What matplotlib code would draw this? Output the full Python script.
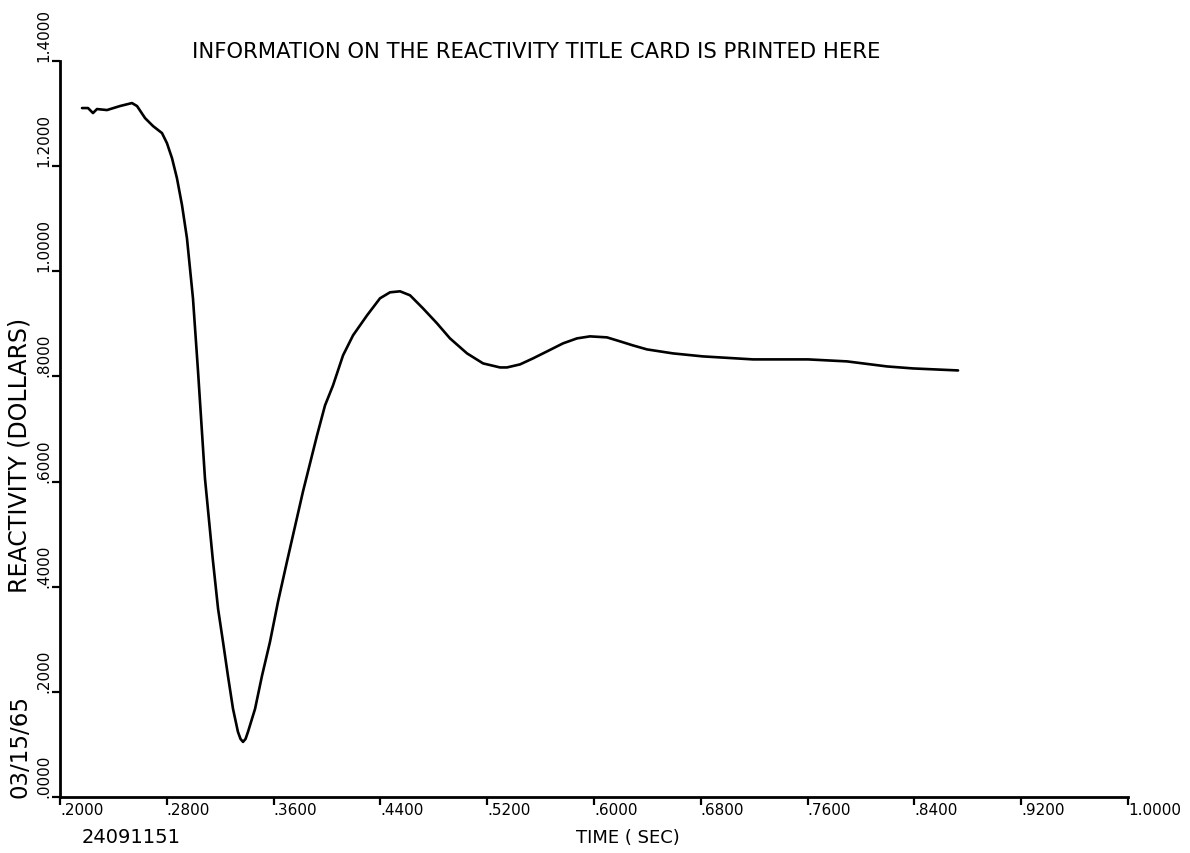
import matplotlib
matplotlib.use("Agg")
import matplotlib.pyplot as plt

# reactivity trace, time in seconds vs reactivity in dollars
time_sec = [0.2165, 0.2210, 0.2247, 0.2277, 0.2352, 0.2449, 0.2539, 0.2577,
            0.2637, 0.2697, 0.2764, 0.2801, 0.2839, 0.2876, 0.2914, 0.2951,
            0.2996, 0.3034, 0.3086, 0.3144, 0.3184, 0.3221, 0.3258,
            0.3296, 0.3333, 0.3352, 0.3371, 0.3390, 0.3408, 0.3461, 0.3513,
            0.3573, 0.3633,
            0.3700, 0.3820, 0.3925, 0.3985, 0.4045, 0.4120, 0.4195, 0.4300,
            0.4397, 0.4472, 0.4547, 0.4622, 0.4719, 0.4824, 0.4921, 0.5049,
            0.5169, 0.5296, 0.5348, 0.5446, 0.5543, 0.5648, 0.5768, 0.5873,
            0.5970, 0.6097, 0.6195, 0.6292, 0.6397, 0.6592, 0.6816, 0.7191,
            0.7603, 0.7895, 0.8195, 0.8390, 0.8727]
reactivity = [1.3105, 1.3105, 1.3010, 1.3086, 1.3067, 1.3143, 1.3200, 1.3143,
              1.2914, 1.2762, 1.2629, 1.2438, 1.2152, 1.1771, 1.1257, 1.0629,
              0.9486, 0.8095, 0.6057, 0.4533, 0.3581, 0.2952, 0.2305,
              0.1676, 0.1238, 0.1105, 0.1048, 0.1105, 0.1238, 0.1676, 0.2305,
              0.2952, 0.3714,
              0.4476, 0.5810, 0.6876, 0.7448, 0.7829, 0.8400, 0.8781, 0.9162,
              0.9486, 0.9600, 0.9619, 0.9543, 0.9295, 0.9010, 0.8724, 0.8438,
              0.8248, 0.8171, 0.8171, 0.8229, 0.8343, 0.8476, 0.8629, 0.8724,
              0.8762, 0.8743, 0.8667, 0.8590, 0.8514, 0.8438, 0.8381, 0.8324,
              0.8324, 0.8286, 0.8190, 0.8152, 0.8114]

x_ticks = [0.20, 0.28, 0.36, 0.44, 0.52, 0.60, 0.68, 0.76, 0.84, 0.92, 1.00]
x_labels = [".2000", ".2800", ".3600", ".4400", ".5200", ".6000", ".6800",
            ".7600", ".8400", ".9200", "1.0000"]
y_ticks = [0.0, 0.2, 0.4, 0.6, 0.8, 1.0, 1.2, 1.4]
y_labels = [".0000", ".2000", ".4000", ".6000", ".8000", "1.0000", "1.2000", "1.4000"]

W, H = 1190, 854
plt.rcParams['font.family'] = ['DejaVu Sans']

fig = plt.figure(figsize=(W / 100, H / 100), dpi=100)
ax = fig.add_axes([60 / W, 1 - 798 / H, (1128 - 60) / W, (798 - 62) / H])

ax.plot(time_sec, reactivity, color="black", lw=1.9,
        solid_capstyle="round", solid_joinstyle="round")

ax.set_xlim(0.2, 1.0)
ax.set_ylim(0.0, 1.4)
for side in ("top", "right"):
    ax.spines[side].set_visible(False)
for side in ("left", "bottom"):
    ax.spines[side].set_linewidth(2.0)

ax.set_xticks(x_ticks)
ax.set_xticklabels(x_labels, ha="left", fontsize=11)
ax.set_yticks(y_ticks)
ax.set_yticklabels(y_labels, rotation=90, va="bottom", fontsize=11)
ax.tick_params(axis="both", direction="out", length=5.5, width=1.6)
ax.tick_params(axis="x", pad=-2)
ax.tick_params(axis="y", pad=1)


def put(px, py, s, **kw):
    fig.text(px / W, 1 - py / H, s, **kw)


put(536, 52, "INFORMATION ON THE REACTIVITY TITLE CARD IS PRINTED HERE",
    ha="center", va="center", fontsize=15.2)
put(20, 455, "REACTIVITY (DOLLARS)", rotation=90, ha="center", va="center", fontsize=17)
put(20, 798, "03/15/65", rotation=90, ha="center", va="bottom", fontsize=16.5)
put(131, 838, "24091151", ha="center", va="center", fontsize=14)
put(628, 838, "TIME ( SEC)", ha="center", va="center", fontsize=13)

fig.savefig("out.png", dpi=100, facecolor="white")
